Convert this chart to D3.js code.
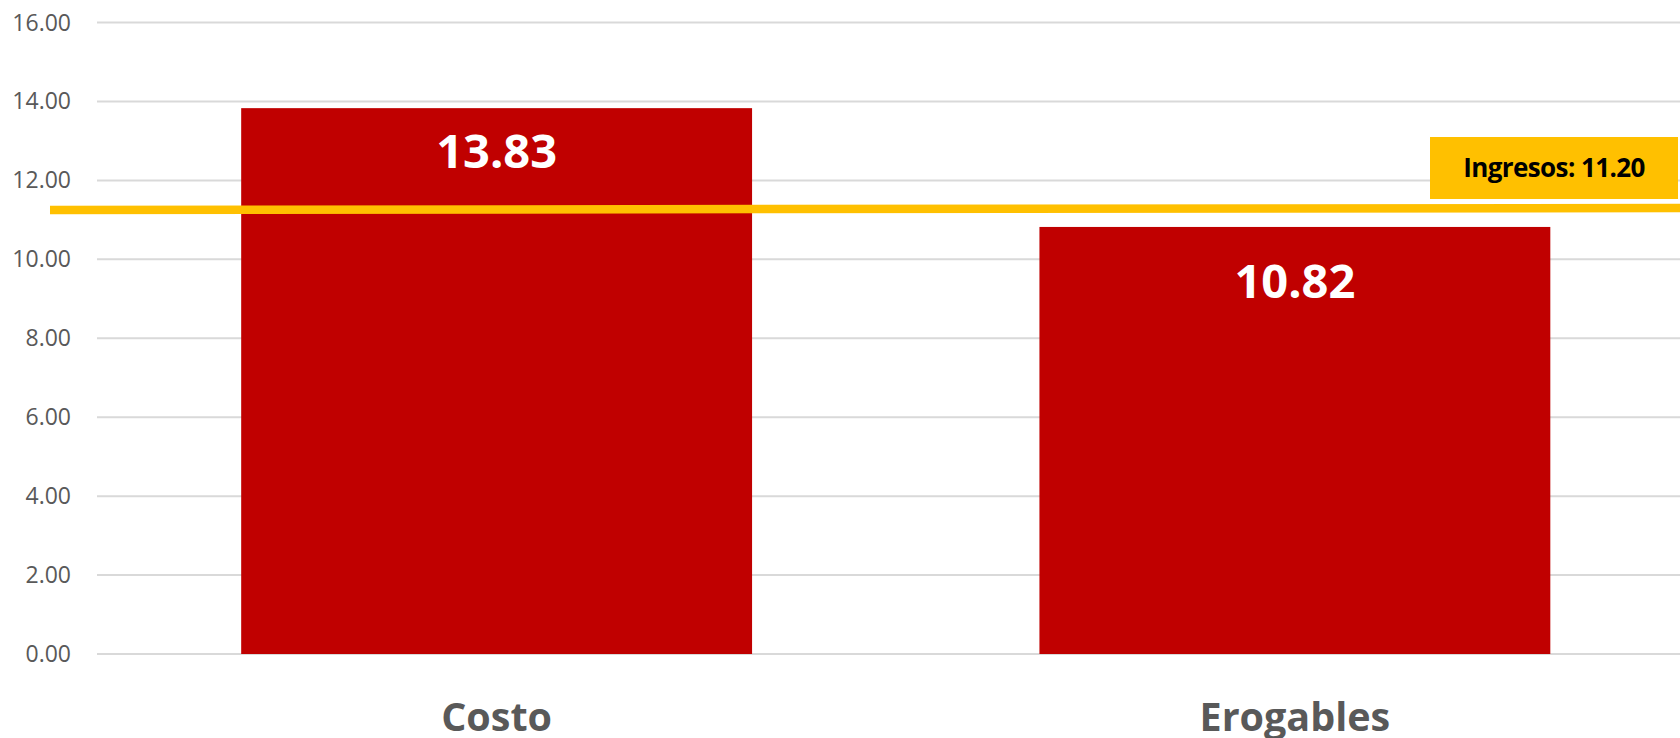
<!DOCTYPE html>
<html>
<head>
<meta charset="utf-8">
<script src="https://cdn.jsdelivr.net/npm/d3@7"></script>
<style>
  html, body { margin: 0; padding: 0; background: #fff; }
  svg { display: block; font-family: "Open Sans", sans-serif; }
</style>
</head>
<body>
<div id="chart"></div>
<script>
// data
const categories = ["Costo", "Erogables"];
const values = [13.83, 10.82];
const yTicks = [0, 2, 4, 6, 8, 10, 12, 14, 16];
const ingresos = 11.20;
const ingresosLine = [11.25, 11.30]; // drawn slightly slanted in the original

const width = 1680;
const height = 738;

const svg = d3.select('#chart')
    .append('svg')
    .attr('width', width)
    .attr('height', height);

const y = d3.scaleLinear().domain([0, 16]).range([654, 22.5]);
const x = d3.scaleBand()
    .domain(categories)
    .range([97.5, 1694])
    .paddingInner(0.36)
    .paddingOuter(0.18);

// gridlines
svg.append('g').selectAll('line')
    .data(yTicks)
    .enter().append('line')
    .attr('x1', 97).attr('x2', width)
    .attr('y1', d => y(d)).attr('y2', d => y(d))
    .style('stroke', '#d9d9d9')
    .style('stroke-width', 2);

// y axis labels
svg.append('g').selectAll('text')
    .data(yTicks)
    .enter().append('text')
    .attr('x', 71)
    .attr('y', d => y(d))
    .attr('dy', '0.35em')
    .attr('text-anchor', 'end')
    .style('font-size', '23px')
    .style('fill', '#595959')
    .text(d => d3.format('.2f')(d));

// bars
const bars = categories.map((c, i) => ({cat: c, val: values[i]}));
svg.append('g').selectAll('rect')
    .data(bars)
    .enter().append('rect')
    .attr('x', d => x(d.cat))
    .attr('y', d => y(d.val))
    .attr('width', x.bandwidth())
    .attr('height', d => y(0) - y(d.val))
    .style('fill', '#c00000');

// bar value labels (offset below the bar top differs a bit per bar)
const labelOffsets = [60, 71];
svg.append('g').selectAll('text')
    .data(bars)
    .enter().append('text')
    .attr('x', d => x(d.cat) + x.bandwidth() / 2)
    .attr('y', (d, i) => y(d.val) + labelOffsets[i])
    .attr('text-anchor', 'middle')
    .style('font-size', '47px')
    .style('font-weight', 'bold')
    .style('fill', '#fff')
    .text(d => d3.format('.2f')(d.val));

// category labels
svg.append('g').selectAll('text')
    .data(categories)
    .enter().append('text')
    .attr('x', d => x(d) + x.bandwidth() / 2)
    .attr('y', 731)
    .attr('text-anchor', 'middle')
    .style('font-size', '39.5px')
    .style('font-weight', 'bold')
    .style('fill', '#595959')
    .text(d => d);

// ingresos line
const lineX = [50, width];
svg.append('line')
    .attr('x1', lineX[0]).attr('x2', lineX[1])
    .attr('y1', y(ingresosLine[0])).attr('y2', y(ingresosLine[1]))
    .style('stroke', '#ffc000')
    .style('stroke-width', 8.5);

// ingresos label
const boxW = 248, boxH = 62;
const boxX = 1430;
const boxY = y(ingresosLine[1]) - 71;
svg.append('rect')
    .attr('x', boxX).attr('y', boxY)
    .attr('width', boxW).attr('height', boxH)
    .style('fill', '#ffc000');
svg.append('text')
    .attr('x', boxX + boxW / 2)
    .attr('y', boxY + boxH / 2)
    .attr('dy', '0.35em')
    .attr('text-anchor', 'middle')
    .style('font-size', '26px')
    .style('font-weight', 'bold')
    .style('letter-spacing', '-0.6px')
    .style('fill', '#000')
    .text('Ingresos: ' + d3.format('.2f')(ingresos));
</script>
</body>
</html>
